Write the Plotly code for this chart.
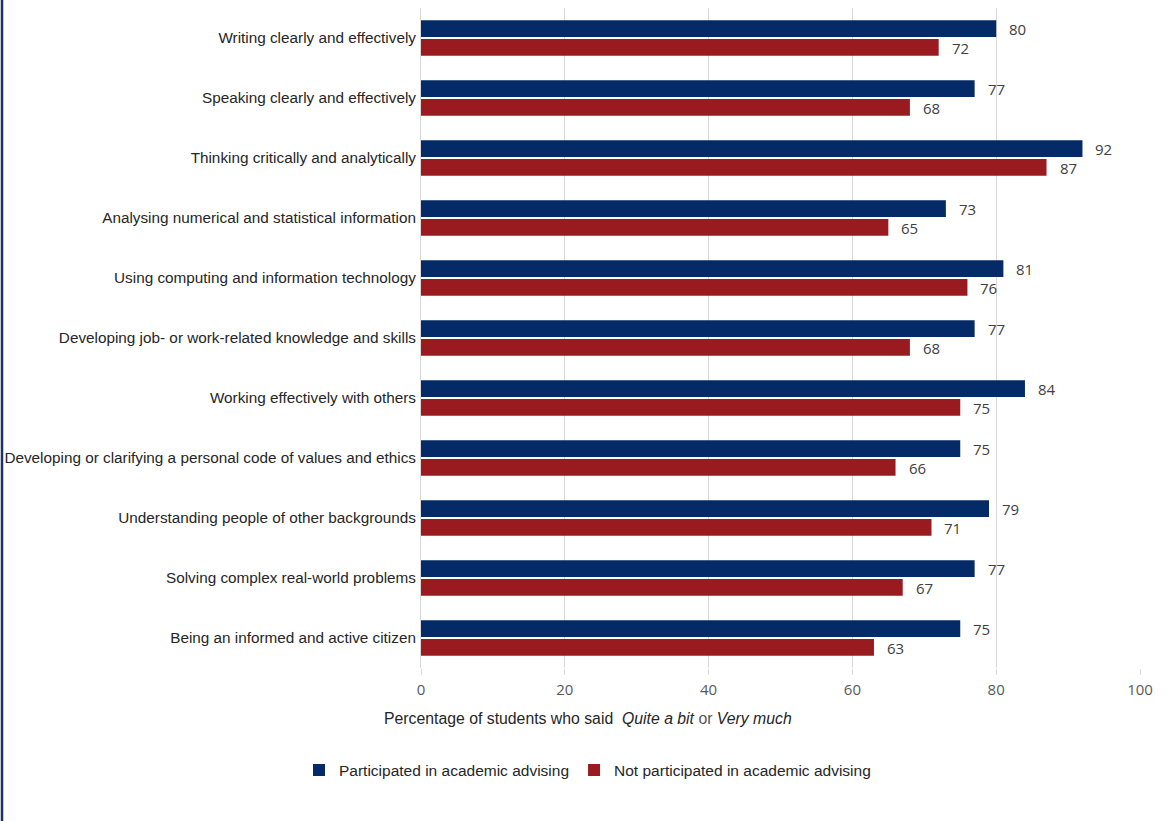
import plotly.graph_objects as go

categories = [
    "Writing clearly and effectively",
    "Speaking clearly and effectively",
    "Thinking critically and analytically",
    "Analysing numerical and statistical information",
    "Using computing and information technology",
    "Developing job- or work-related knowledge and skills",
    "Working effectively with others",
    "Developing or clarifying a personal code of values and ethics",
    "Understanding people of other backgrounds",
    "Solving complex real-world problems",
    "Being an informed and active citizen",
]
participated = [80, 77, 92, 73, 81, 77, 84, 75, 79, 77, 75]
not_participated = [72, 68, 87, 65, 76, 68, 75, 66, 71, 67, 63]

x_ticks = [0, 20, 40, 60, 80, 100]

NAVY = "#042a68"
RED = "#9a1b1f"
LABEL_FONT = "Liberation Sans, Arial, sans-serif"
NUM_FONT = "Open Sans, sans-serif"

fig = go.Figure()
fig.add_trace(go.Bar(
    y=categories, x=participated, orientation="h",
    name="Participated in academic advising",
    marker=dict(color=NAVY, line=dict(width=0)),
))
fig.add_trace(go.Bar(
    y=categories, x=not_participated, orientation="h",
    name="Not participated in academic advising",
    marker=dict(color=RED, line=dict(width=0)),
))

# value labels to the right of each bar
for cat, v in zip(categories, participated):
    fig.add_annotation(x=v, y=cat, text=str(v), showarrow=False,
                       xanchor="left", xshift=11, yshift=9,
                       font=dict(family=NUM_FONT, size=15, color="#404040"))
for cat, v in zip(categories, not_participated):
    fig.add_annotation(x=v, y=cat, text=str(v), showarrow=False,
                       xanchor="left", xshift=11, yshift=-10,
                       font=dict(family=NUM_FONT, size=15, color="#404040"))

# axis title with italic response options
fig.add_annotation(
    xref="paper", yref="paper", x=(382 - 421) / 719, y=-50 / 660,
    xanchor="left", yanchor="middle", showarrow=False,
    text="Percentage of students who said  <i>Quite a bit</i> <span style='color:#555555'>or</span> <i>Very much</i>",
    font=dict(family=LABEL_FONT, size=15.8, color="#262626"),
)

# frame line on the left edge
fig.add_shape(type="line", xref="paper", yref="paper",
              xsizemode="pixel", xanchor=0, x0=-419, x1=-419,
              y0=-0.5, y1=1.5, line=dict(color="#1d3366", width=2.5))

fig.update_layout(
    width=1168, height=821,
    margin=dict(l=421, r=28, t=8, b=153, autoexpand=False),
    paper_bgcolor="white", plot_bgcolor="white",
    barmode="group", bargap=0.38, bargroupgap=0.1,
    showlegend=True,
    legend=dict(orientation="h", x=(299 - 421) / 719, y=-0.155,
                xanchor="left", yanchor="middle",
                font=dict(family=LABEL_FONT, size=15.5, color="#262626"),
                traceorder="normal", itemwidth=30),
    xaxis=dict(range=[0, 100], tickvals=x_ticks, showgrid=True,
               gridcolor="#d9d9d9", gridwidth=1, zeroline=False,
               ticks="outside", ticklen=6, tickcolor="#d9d9d9",
               ticklabelstandoff=2, automargin=False,
               tickfont=dict(family=NUM_FONT, size=15, color="#595959"),
               showline=False, fixedrange=True),
    yaxis=dict(autorange="reversed", showgrid=False, zeroline=False,
               showline=True, linecolor="#d9d9d9", linewidth=1,
               ticks="", ticklabelstandoff=1, automargin=False,
               tickfont=dict(family=LABEL_FONT, size=15.3, color="#262626")),
)

fig.write_html("out.html")
